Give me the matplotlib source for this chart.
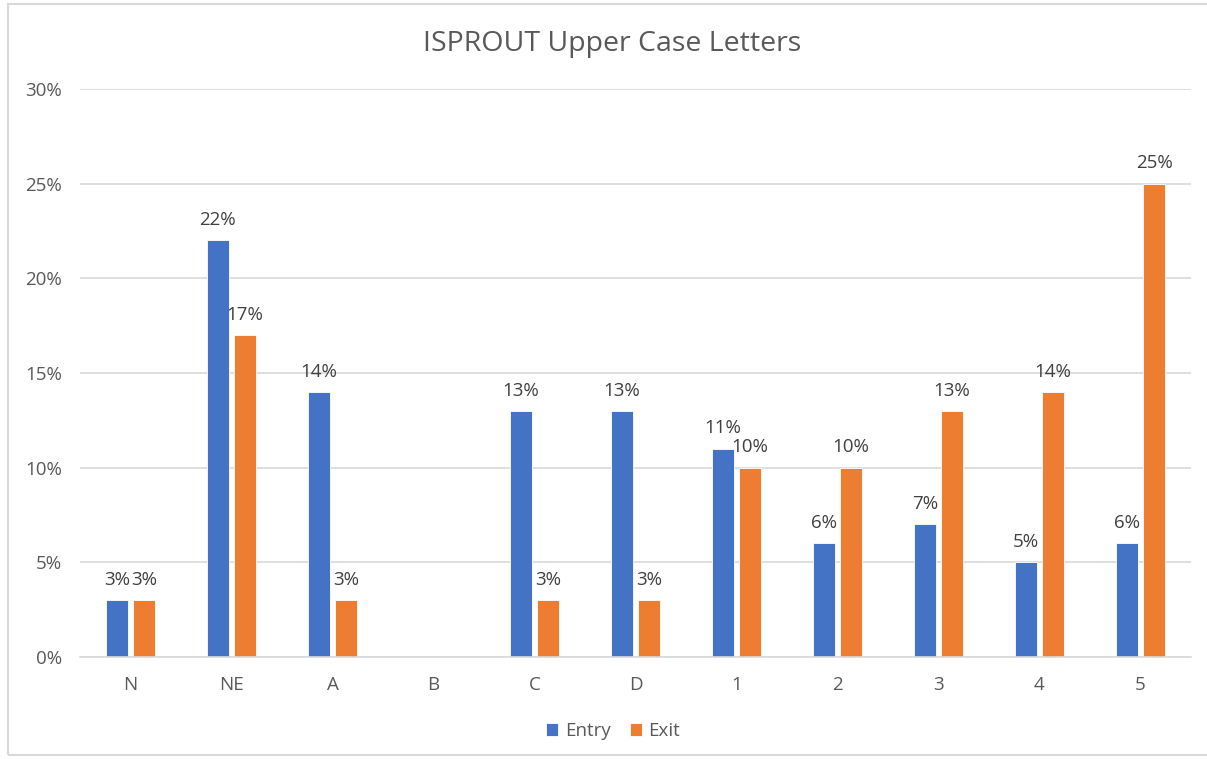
import matplotlib.pyplot as plt
import numpy as np
from matplotlib.patches import Rectangle
from matplotlib.ticker import FuncFormatter

categories = ["N", "NE", "A", "B", "C", "D", "1", "2", "3", "4", "5"]
entry = [3, 22, 14, np.nan, 13, 13, 11, 6, 7, 5, 6]
exit_ = [3, 17, 3, np.nan, 3, 3, 10, 10, 13, 14, 25]

BLUE = "#4472C4"
ORANGE = "#ED7D31"
TEXT = "#595959"
GRID = "#D9D9D9"

plt.rcParams["font.family"] = ["Open Sans", "DejaVu Sans"]

fig = plt.figure(figsize=(12.07, 7.59), dpi=100)
ax = fig.add_axes([0.0663, 0.1344, 0.9204, 0.7483])

x = np.arange(len(categories))
w = 0.22
gap = 0.05
b1 = ax.bar(x - (w + gap) / 2, entry, w, color=BLUE, label="Entry", edgecolor="white", linewidth=0.6)
b2 = ax.bar(x + (w + gap) / 2, exit_, w, color=ORANGE, label="Exit", edgecolor="white", linewidth=0.6)

for bars, vals in ((b1, entry), (b2, exit_)):
    for rect, v in zip(bars, vals):
        if np.isnan(v):
            continue
        ax.text(rect.get_x() + rect.get_width() / 2, v + 0.6, f"{v:.0f}%",
                ha="center", va="bottom", fontsize=13.5, color="#404040")

ax.set_xlim(-0.5, len(categories) - 0.5)
ax.set_ylim(0, 30)
ax.set_yticks(np.arange(0, 31, 5))
ax.yaxis.set_major_formatter(FuncFormatter(lambda v, p: f"{v:.0f}%"))
ax.set_xticks(x)
ax.set_xticklabels(categories)
ax.tick_params(axis="both", length=0, labelsize=13.5, labelcolor=TEXT)
ax.tick_params(axis="x", pad=14)
ax.tick_params(axis="y", pad=13)
ax.grid(axis="y", color=GRID, linewidth=1.2)
ax.set_axisbelow(True)
for s in ["top", "right", "left"]:
    ax.spines[s].set_visible(False)
ax.spines["bottom"].set_color(GRID)
ax.spines["bottom"].set_linewidth(1.2)

fig.text(0.507, 0.942, "ISPROUT Upper Case Letters", ha="center", va="center",
         fontsize=20.5, color=TEXT)

fig.legend(handles=[b1, b2], labels=["Entry", "Exit"], loc="center",
           bbox_to_anchor=(0.508, 0.037), ncol=2, frameon=False, fontsize=13.5,
           labelcolor=TEXT, handlelength=0.65, handleheight=0.65,
           handletextpad=0.35, columnspacing=1.0)

fig.patches.append(Rectangle((8 / 1207, 4 / 759), 1.2, 1 - 8 / 759,
                             transform=fig.transFigure, fill=False,
                             edgecolor="#D9D9D9", linewidth=1.5))

fig.savefig("out.png", dpi=100)
